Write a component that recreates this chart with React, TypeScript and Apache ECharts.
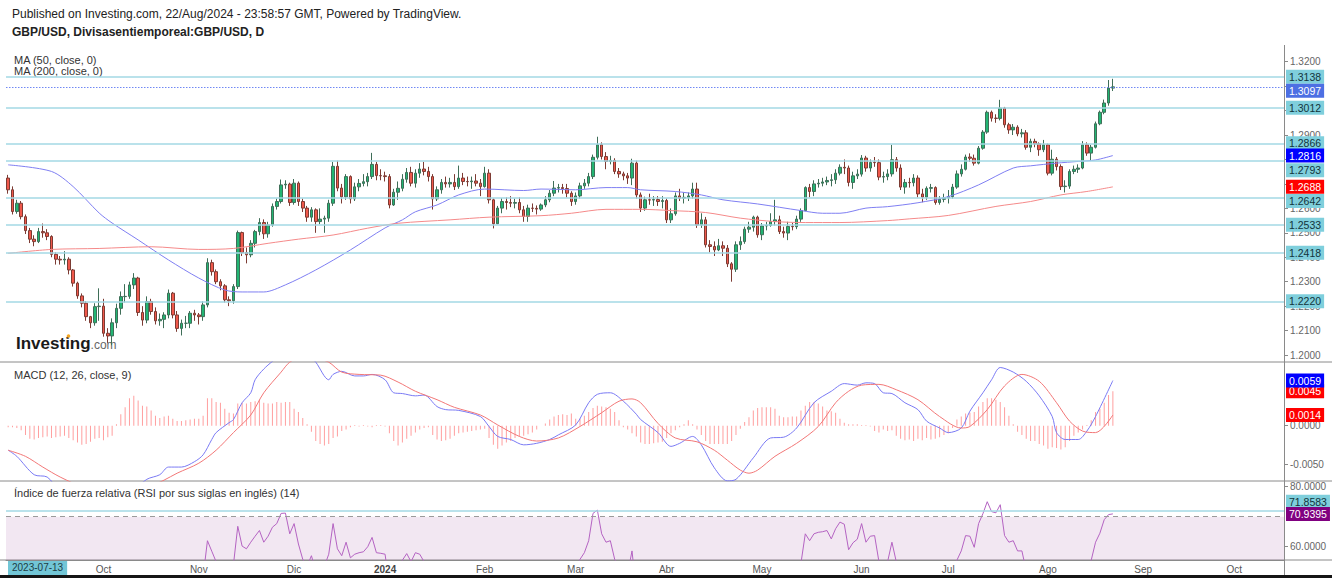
import React, { useEffect, useRef } from "react";
import * as echarts from "echarts";

// ---------------- DATA ----------------
const CAT_START = "2023-08-31";
const CAT_END = "2024-10-16";
const monthNames = ["Ene", "Feb", "Mar", "Abr", "May", "Jun", "Jul", "Ago", "Sep", "Oct", "Nov", "Dic"];

const firstOpen = 1.2724;
const closes = [
  1.2676,1.2587,1.2621,1.2566,1.2509,1.2474,1.2464,1.2505,1.2500,1.2485,
  1.2412,1.2392,1.2389,1.2392,1.2348,1.2294,1.2242,1.2212,1.2157,1.2132,
  1.2198,1.2200,1.2089,1.2078,1.2132,1.2191,1.2239,1.2240,1.2287,1.2315,
  1.2174,1.2143,1.2219,1.2178,1.2140,1.2146,1.2164,1.2253,1.2164,1.2109,
  1.2130,1.2130,1.2171,1.2164,1.2157,1.2205,1.2378,1.2341,1.2300,1.2283,
  1.2226,1.2222,1.2280,1.2501,1.2419,1.2410,1.2457,1.2505,1.2542,1.2496,
  1.2532,1.2608,1.2628,1.2696,1.2699,1.2624,1.2703,1.2628,1.2601,1.2564,
  1.2594,1.2546,1.2556,1.2560,1.2621,1.2772,1.2683,1.2647,1.2730,1.2639,
  1.2688,1.2702,1.2709,1.2730,1.2780,1.2734,1.2733,1.2730,1.2614,1.2666,
  1.2682,1.2719,1.2747,1.2703,1.2744,1.2761,1.2751,1.2730,1.2639,1.2676,
  1.2706,1.2700,1.2706,1.2689,1.2724,1.2710,1.2709,1.2712,1.2703,1.2689,
  1.2744,1.2635,1.2537,1.2601,1.2628,1.2624,1.2621,1.2624,1.2594,1.2567,
  1.2601,1.2600,1.2597,1.2614,1.2635,1.2662,1.2683,1.2685,1.2681,1.2662,
  1.2628,1.2651,1.2692,1.2703,1.2730,1.2809,1.2860,1.2812,1.2792,1.2796,
  1.2751,1.2741,1.2733,1.2724,1.2785,1.2655,1.2601,1.2635,1.2634,1.2636,
  1.2628,1.2632,1.2553,1.2578,1.2651,1.2642,1.2645,1.2651,1.2679,1.2532,
  1.2553,1.2451,1.2444,1.2430,1.2447,1.2437,1.2373,1.2351,1.2451,1.2464,
  1.2515,1.2523,1.2564,1.2492,1.2528,1.2530,1.2546,1.2553,1.2505,1.2499,
  1.2526,1.2525,1.2556,1.2591,1.2685,1.2669,1.2700,1.2703,1.2708,1.2714,
  1.2717,1.2744,1.2768,1.2765,1.2706,1.2733,1.2740,1.2806,1.2765,1.2788,
  1.2787,1.2728,1.2730,1.2741,1.2799,1.2765,1.2687,1.2706,1.2705,1.2724,
  1.2659,1.2646,1.2682,1.2685,1.2624,1.2637,1.2643,1.2648,1.2687,1.2741,
  1.2760,1.2810,1.2805,1.2785,1.2846,1.2912,1.2993,1.2969,1.2968,1.3010,
  1.2942,1.2921,1.2932,1.2905,1.2909,1.2850,1.2874,1.2864,1.2840,1.2860,
  1.2744,1.2801,1.2771,1.2689,1.2691,1.2751,1.2760,1.2765,1.2860,1.2826,
  1.2850,1.2946,1.2993,1.3031,1.3092,1.3097,
];
const highs = [
  1.2737,1.2690,1.2635,1.2630,1.2575,1.2520,1.2490,1.2520,1.2538,1.2515,
  1.2490,1.2420,1.2405,1.2425,1.2400,1.2352,1.2300,1.2252,1.2220,1.2160,
  1.2212,1.2273,1.2230,1.2110,1.2150,1.2210,1.2260,1.2290,1.2300,1.2335,
  1.2320,1.2200,1.2240,1.2230,1.2195,1.2170,1.2175,1.2268,1.2258,1.2180,
  1.2145,1.2160,1.2180,1.2185,1.2172,1.2220,1.2396,1.2390,1.2350,1.2310,
  1.2290,1.2240,1.2290,1.2509,1.2505,1.2440,1.2470,1.2512,1.2560,1.2555,
  1.2545,1.2620,1.2640,1.2718,1.2715,1.2705,1.2720,1.2710,1.2640,1.2610,
  1.2605,1.2600,1.2600,1.2570,1.2635,1.2790,1.2795,1.2700,1.2740,1.2735,
  1.2705,1.2720,1.2740,1.2745,1.2827,1.2790,1.2760,1.2750,1.2740,1.2680,
  1.2710,1.2740,1.2765,1.2770,1.2760,1.2785,1.2790,1.2770,1.2740,1.2690,
  1.2720,1.2730,1.2725,1.2740,1.2775,1.2745,1.2730,1.2730,1.2740,1.2720,
  1.2770,1.2760,1.2640,1.2610,1.2642,1.2645,1.2650,1.2640,1.2645,1.2610,
  1.2615,1.2620,1.2612,1.2620,1.2650,1.2675,1.2712,1.2700,1.2700,1.2700,
  1.2670,1.2665,1.2705,1.2720,1.2745,1.2820,1.2893,1.2870,1.2830,1.2815,
  1.2805,1.2765,1.2750,1.2745,1.2803,1.2795,1.2665,1.2648,1.2660,1.2650,
  1.2650,1.2650,1.2640,1.2600,1.2665,1.2680,1.2665,1.2665,1.2705,1.2705,
  1.2580,1.2565,1.2470,1.2465,1.2475,1.2465,1.2450,1.2380,1.2465,1.2485,
  1.2525,1.2545,1.2570,1.2570,1.2540,1.2545,1.2580,1.2635,1.2570,1.2525,
  1.2545,1.2540,1.2570,1.2600,1.2690,1.2700,1.2715,1.2720,1.2725,1.2730,
  1.2740,1.2760,1.2780,1.2800,1.2775,1.2750,1.2760,1.2818,1.2815,1.2800,
  1.2810,1.2800,1.2750,1.2760,1.2860,1.2810,1.2780,1.2720,1.2725,1.2740,
  1.2735,1.2680,1.2690,1.2700,1.2690,1.2650,1.2660,1.2675,1.2700,1.2755,
  1.2780,1.2820,1.2825,1.2820,1.2855,1.2920,1.3000,1.3000,1.2985,1.3044,
  1.3015,1.2950,1.2945,1.2940,1.2925,1.2920,1.2885,1.2885,1.2870,1.2880,
  1.2865,1.2840,1.2810,1.2780,1.2715,1.2760,1.2775,1.2780,1.2875,1.2870,
  1.2860,1.2955,1.3000,1.3045,1.3125,1.3130,
];
const lows = [
  1.2660,1.2575,1.2578,1.2555,1.2495,1.2458,1.2445,1.2458,1.2480,1.2470,
  1.2400,1.2370,1.2370,1.2370,1.2330,1.2280,1.2230,1.2195,1.2140,1.2110,
  1.2120,1.2140,1.2075,1.2050,1.2040,1.2110,1.2165,1.2215,1.2230,1.2270,
  1.2160,1.2120,1.2130,1.2165,1.2125,1.2120,1.2110,1.2150,1.2150,1.2095,
  1.2080,1.2110,1.2110,1.2140,1.2125,1.2140,1.2195,1.2325,1.2290,1.2265,
  1.2215,1.2200,1.2210,1.2270,1.2405,1.2375,1.2400,1.2440,1.2490,1.2475,
  1.2480,1.2525,1.2595,1.2620,1.2680,1.2610,1.2615,1.2610,1.2585,1.2545,
  1.2545,1.2500,1.2535,1.2500,1.2545,1.2610,1.2670,1.2620,1.2635,1.2620,
  1.2630,1.2670,1.2690,1.2690,1.2720,1.2715,1.2715,1.2710,1.2600,1.2610,
  1.2635,1.2670,1.2705,1.2690,1.2685,1.2725,1.2735,1.2710,1.2595,1.2630,
  1.2660,1.2685,1.2685,1.2675,1.2680,1.2695,1.2690,1.2680,1.2690,1.2650,
  1.2685,1.2620,1.2518,1.2535,1.2580,1.2595,1.2605,1.2600,1.2580,1.2545,
  1.2545,1.2585,1.2575,1.2590,1.2605,1.2625,1.2650,1.2665,1.2660,1.2645,
  1.2610,1.2615,1.2640,1.2680,1.2690,1.2720,1.2800,1.2800,1.2760,1.2780,
  1.2740,1.2725,1.2715,1.2700,1.2695,1.2640,1.2585,1.2590,1.2615,1.2610,
  1.2610,1.2600,1.2540,1.2540,1.2570,1.2630,1.2620,1.2630,1.2640,1.2520,
  1.2520,1.2440,1.2420,1.2405,1.2425,1.2405,1.2360,1.2300,1.2340,1.2430,
  1.2455,1.2500,1.2505,1.2480,1.2470,1.2510,1.2525,1.2530,1.2495,1.2480,
  1.2470,1.2510,1.2515,1.2545,1.2590,1.2645,1.2650,1.2685,1.2690,1.2695,
  1.2690,1.2700,1.2735,1.2740,1.2690,1.2680,1.2720,1.2730,1.2750,1.2750,
  1.2770,1.2715,1.2705,1.2715,1.2730,1.2750,1.2675,1.2660,1.2685,1.2690,
  1.2645,1.2625,1.2635,1.2665,1.2615,1.2615,1.2625,1.2620,1.2640,1.2680,
  1.2730,1.2755,1.2790,1.2775,1.2780,1.2840,1.2905,1.2955,1.2950,1.2960,
  1.2930,1.2905,1.2900,1.2895,1.2890,1.2840,1.2830,1.2850,1.2815,1.2830,
  1.2735,1.2735,1.2755,1.2675,1.2665,1.2680,1.2740,1.2745,1.2760,1.2815,
  1.2795,1.2845,1.2940,1.2985,1.3020,1.3080,
];

// [bar index, value]
const ma50Points = [
  [0,1.2778],[10,1.2751],[15,1.2689],[21,1.2581],[24,1.2540],[30,1.2471],[37,1.2389],[44,1.2315],
  [50,1.2266],[54,1.2258],[59,1.2258],[64,1.2287],[71,1.2348],[79,1.2430],[87,1.2520],[91,1.2553],
  [94,1.2586],[99,1.2614],[104,1.2655],[110,1.2679],[119,1.2673],[123,1.2679],[131,1.2676],[138,1.2685],
  [143,1.2685],[146,1.2676],[154,1.2669],[160,1.2655],[165,1.2635],[173,1.2618],[183,1.2591],[188,1.2580],
  [192,1.2580],[198,1.2601],[203,1.2607],[210,1.2623],[217,1.2648],[224,1.2696],[232,1.2765],[236,1.2774],
  [242,1.2785],[247,1.2792],[251,1.2798],[255,1.2816],
];
const ma200Points = [
  [0,1.2416],[10,1.2432],[21,1.2436],[33,1.2443],[44,1.2432],[52,1.2436],[60,1.2457],[67,1.2474],
  [75,1.2491],[83,1.2519],[90,1.2539],[102,1.2553],[111,1.2564],[123,1.2570],[130,1.2580],[138,1.2596],
  [146,1.2596],[153,1.2591],[161,1.2583],[169,1.2560],[177,1.2546],[184,1.2542],[192,1.2542],[203,1.2550],
  [208,1.2557],[217,1.2571],[228,1.2608],[236,1.2628],[243,1.2655],[249,1.2669],[255,1.2688],
];

const priceLevels = [1.3138, 1.3012, 1.2866, 1.2793, 1.2642, 1.2533, 1.2418, 1.2220];
const mainTicks = [1.20,1.21,1.22,1.23,1.24,1.25,1.26,1.27,1.28,1.29,1.30,1.31,1.32];
// tick labels that are not fully covered by a price box in the reference
const mainTickLabels = [1.20,1.21,1.22,1.23,1.24,1.25,1.26,1.29,1.32];

const macdPoints = [
  [0,-0.0032],[2,-0.0040],[6,-0.0064],[9,-0.0067],[12,-0.0085],[18,-0.0100],[24,-0.0097],[28,-0.0088],
  [32,-0.0070],[35,-0.0064],[37,-0.0054],[40,-0.0054],[43,-0.0047],[45,-0.0038],[47,-0.0018],[48,-0.0009],
  [51,0.0004],[52,0.0008],[54,0.0030],[56,0.0043],[57,0.0060],[59,0.0074],[61,0.0084],[64,0.0096],
  [67,0.0098],[70,0.0088],[71,0.0083],[74,0.0060],[75,0.0067],[77,0.0071],[80,0.0065],[82,0.0065],
  [84,0.0067],[87,0.0060],[89,0.0043],[91,0.0042],[94,0.0039],[96,0.0040],[99,0.0025],[101,0.0021],
  [104,0.0020],[109,0.0012],[111,-0.0001],[113,-0.0014],[116,-0.0018],[119,-0.0025],[122,-0.0023],[125,-0.0018],
  [127,-0.0012],[131,0.0001],[134,0.0030],[136,0.0041],[139,0.0043],[142,0.0032],[145,0.0015],[146,0.0008],
  [150,-0.0009],[153,-0.0027],[155,-0.0023],[158,-0.0014],[160,-0.0025],[163,-0.0055],[166,-0.0072],[168,-0.0070],
  [172,-0.0042],[176,-0.0016],[179,-0.0015],[182,-0.0003],[186,0.0030],[190,0.0045],[193,0.0055],[196,0.0053],
  [198,0.0056],[200,0.0055],[202,0.0043],[204,0.0042],[207,0.0030],[210,0.0021],[212,0.0006],[215,-0.0003],
  [217,-0.0009],[220,-0.0003],[222,0.0019],[225,0.0043],[227,0.0060],[229,0.0076],[232,0.0070],[235,0.0058],
  [238,0.0039],[241,0.0012],[242,-0.0009],[244,-0.0018],[247,-0.0018],[249,-0.0007],[251,0.0012],[255,0.0059],
];
const signalPoints = [
  [0,-0.0032],[4,-0.0040],[8,-0.0054],[12,-0.0067],[18,-0.0082],[24,-0.0090],[30,-0.0086],[36,-0.0071],
  [39,-0.0062],[44,-0.0049],[48,-0.0032],[52,-0.0009],[56,0.0014],[59,0.0043],[63,0.0070],[65,0.0083],
  [68,0.0090],[71,0.0088],[74,0.0083],[77,0.0070],[81,0.0067],[86,0.0066],[90,0.0057],[94,0.0045],
  [99,0.0034],[103,0.0024],[109,0.0014],[113,0.0001],[118,-0.0014],[122,-0.0020],[127,-0.0016],[132,-0.0001],
  [137,0.0017],[141,0.0032],[144,0.0035],[146,0.0030],[150,0.0003],[154,-0.0016],[159,-0.0021],[163,-0.0032],
  [166,-0.0045],[169,-0.0058],[171,-0.0062],[173,-0.0058],[177,-0.0040],[182,-0.0023],[187,-0.0001],[191,0.0030],
  [194,0.0045],[197,0.0053],[201,0.0054],[205,0.0047],[210,0.0034],[215,0.0012],[220,-0.0003],[222,-0.0001],
  [226,0.0021],[230,0.0052],[234,0.0067],[238,0.0058],[242,0.0030],[245,0.0006],[248,-0.0007],[251,-0.0009],
  [255,0.0014],
];
const macdHist = [
  -0.0002,-0.0002,-0.0003,-0.0006,-0.0012,-0.0017,-0.0018,-0.0016,-0.0015,-0.0014,
  -0.0016,-0.0015,-0.0014,-0.0013,-0.0016,-0.0019,-0.0022,-0.0025,-0.0024,-0.0021,
  -0.0017,-0.0016,-0.0019,-0.0015,-0.0013,0.0002,0.0015,0.0024,0.0036,0.0039,
  0.0033,0.0026,0.0025,0.0020,0.0013,0.0010,0.0012,0.0013,0.0009,0.0006,
  0.0006,0.0007,0.0008,0.0009,0.0009,0.0013,0.0036,0.0036,0.0031,0.0030,
  0.0022,0.0017,0.0016,0.0029,0.0030,0.0029,0.0031,0.0032,0.0034,0.0030,
  0.0029,0.0029,0.0031,0.0030,0.0031,0.0031,0.0022,0.0018,0.0010,0.0002,
  -0.0008,-0.0020,-0.0024,-0.0026,-0.0024,-0.0016,-0.0014,-0.0007,-0.0005,-0.0002,
  0.0001,-0.0001,0.0001,-0.0001,-0.0002,0.0001,0.0001,-0.0001,-0.0010,-0.0020,
  -0.0026,-0.0022,-0.0017,-0.0013,-0.0009,-0.0005,-0.0003,-0.0002,-0.0012,-0.0018,
  -0.0020,-0.0019,-0.0017,-0.0013,-0.0010,-0.0009,-0.0008,-0.0007,-0.0006,-0.0005,
  -0.0004,-0.0016,-0.0025,-0.0030,-0.0026,-0.0022,-0.0020,-0.0016,-0.0014,-0.0013,
  -0.0011,-0.0009,-0.0005,0.0000,0.0003,0.0008,0.0012,0.0014,0.0015,0.0014,
  0.0016,0.0009,0.0009,0.0013,0.0018,0.0023,0.0026,0.0025,0.0024,0.0022,
  0.0018,0.0007,-0.0002,-0.0005,-0.0010,-0.0014,-0.0022,-0.0024,-0.0024,-0.0023,
  -0.0022,-0.0021,-0.0016,-0.0010,-0.0006,-0.0002,0.0002,0.0007,0.0002,-0.0005,
  -0.0012,-0.0020,-0.0024,-0.0024,-0.0024,-0.0024,-0.0024,-0.0020,-0.0012,-0.0004,
  0.0005,0.0011,0.0020,0.0023,0.0024,0.0024,0.0024,0.0022,0.0013,0.0011,
  0.0011,0.0012,0.0012,0.0020,0.0026,0.0031,0.0031,0.0029,0.0025,0.0020,
  0.0019,0.0017,0.0009,0.0004,0.0002,0.0002,0.0002,0.0001,0.0001,-0.0001,
  -0.0007,-0.0009,-0.0005,-0.0007,-0.0006,-0.0013,-0.0017,-0.0019,-0.0018,-0.0020,
  -0.0017,-0.0019,-0.0016,-0.0018,-0.0017,-0.0015,-0.0012,-0.0010,-0.0003,0.0008,
  0.0012,0.0016,0.0017,0.0018,0.0025,0.0031,0.0036,0.0036,0.0034,0.0031,
  0.0024,0.0013,0.0002,-0.0008,-0.0012,-0.0017,-0.0020,-0.0020,-0.0024,-0.0026,
  -0.0030,-0.0028,-0.0029,-0.0031,-0.0028,-0.0020,-0.0013,-0.0009,-0.0005,0.0001,
  0.0007,0.0018,0.0022,0.0030,0.0040,0.0045,
];
const macdTicks = [-0.005, 0];

const rsi = [
  50,44,47,43,39,37,36,40,40,39,
  34,33,33,34,31,28,25,24,21,20,
  29,30,24,23,30,36,41,41,45,47,
  38,36,42,40,37,38,40,47,41,38,
  40,40,43,42,42,50,62,58.5,55,53,
  48,48,54,66.8,60.2,59.3,61.5,63.5,65.4,61.5,
  63.5,66.5,67.7,71.1,71.2,64.3,67.7,60.9,55.8,53.5,
  57,52,53,53.5,57.5,67.7,59.3,57,61.5,56.3,
  57.5,58,58.3,60,63.1,58,57.8,57.5,47,51.5,
  53,55.5,57.7,55,58,57.5,55,54,45,48,
  51,50,51,49,53,51,51,51.5,50.5,49,
  54.5,44,37,43,46,45.5,45.3,45.8,43,41,
  45,45,44.7,46.5,49,52,54,54.2,53.8,51.5,
  48,51,55.8,58,62,71.1,72.2,64.3,61.5,62,
  55.8,53,52,51,58.6,45,40,44,44,44.5,
  43.5,44.2,37,40,48,47,47.5,48,51,38,
  40,33,32.5,31.5,33.5,32.5,28,27,39,40.5,
  45,46,49.5,43.5,47,47.2,48.6,49.3,45.5,45,
  48,48,51,54.5,64.3,62,64.3,64.8,65,65.4,
  62.6,66,68.2,67.5,59,61.3,62.5,67.7,61.5,63.5,
  63.7,55,53,55,61.5,55,47,49.5,49.5,51.5,
  44.5,43,47.5,48,42,43.5,44.3,45,50,55.5,
  58.6,63.7,63.5,59.8,67.7,71,75,71.7,71.3,74,
  63.7,61.5,62,58.6,58.6,52,54,53,50,52,
  42,47.5,45,38.5,39,45,46,46.5,54.5,52,
  55.5,61.5,64.5,69,70.7,70.9395,
];
const rsiTicks = [60, 80];
const rsiUpper = 70;
const rsiDrawnLevel = 71.8583;

// ---------------- LAYOUT / STYLE ----------------
const W = 1332;
const H = 578;
const GRID_LEFT = 6;
const GRID_RIGHT = 48;
const AXIS_X = W - GRID_RIGHT;
const MAIN_TOP = 46, MAIN_H = 316, MAIN_MIN = 1.19715, MAIN_MAX = 1.32642;
const MACD_TOP = 362, MACD_H = 119, MACD_MIN = -0.00722, MACD_MAX = 0.00832;
const RSI_TOP = 481, RSI_H = 79, RSI_MIN = 55.57, RSI_MAX = 81.9;
const FONT = "'Liberation Sans', Arial, sans-serif";
const LEVEL_COLOR = "#a3d9e5";
const CYAN_BG = "#7fcfdc";
const HIDDEN_LINE = { color: "rgba(0,0,0,0)", width: 0, opacity: 1 };

function weekdays(a: string, b: string): string[] {
  const out: string[] = [];
  const d = new Date(a + "T00:00:00Z");
  const e = new Date(b + "T00:00:00Z");
  while (d <= e) {
    const w = d.getUTCDay();
    if (w !== 0 && w !== 6) out.push(d.toISOString().slice(0, 10));
    d.setUTCDate(d.getUTCDate() + 1);
  }
  return out;
}

function boxLabel(bg: string, fg: string) {
  return {
    show: true,
    position: "end",
    distance: 2,
    opacity: 1,
    formatter: (p: any) => p.name,
    backgroundColor: bg,
    color: fg,
    fontSize: 10.5,
    fontFamily: FONT,
    padding: [2, 3, 1, 3],
    lineHeight: 11,
  };
}

function buildOption() {
  const cats = weekdays(CAT_START, CAT_END);
  const monthStart = new Set<number>();
  cats.forEach((c, i) => {
    if (i > 4 && c.slice(5, 7) !== cats[i - 1].slice(5, 7)) monthStart.add(i);
  });

  const candles = closes.map((c, i) => [i === 0 ? firstOpen : closes[i - 1], c, lows[i], highs[i]]);

  const mainPx = MAIN_H / (MAIN_MAX - MAIN_MIN);
  const rsiPx = RSI_H / (RSI_MAX - RSI_MIN);
  const labelShiftPx: Record<string, number> = { "1.2793": 9, "1.2642": 3, "1.3097": 4 };

  const lastClose = closes[closes.length - 1];
  const lastMa50 = ma50Points[ma50Points.length - 1][1];
  const lastMa200 = ma200Points[ma200Points.length - 1][1];
  const lastMacd = macdPoints[macdPoints.length - 1][1];
  const lastSignal = signalPoints[signalPoints.length - 1][1];
  const lastHist = macdHist[macdHist.length - 1];
  const lastRsi = rsi[rsi.length - 1];

  const mainMarks: any[] = [];
  priceLevels.forEach((v) => {
    mainMarks.push({ yAxis: v, lineStyle: { color: LEVEL_COLOR, width: 1.5, type: "solid" }, label: { show: false } });
  });
  mainMarks.push({ yAxis: lastClose, lineStyle: { color: "#7088f4", width: 1, type: [1.5, 1.5] }, label: { show: false } });
  priceLevels.forEach((v) => {
    const t = v.toFixed(4);
    mainMarks.push({ name: t, yAxis: v - (labelShiftPx[t] || 0) / mainPx, lineStyle: HIDDEN_LINE, label: boxLabel(CYAN_BG, "#12343b") });
  });
  const lc = lastClose.toFixed(4);
  mainMarks.push({ name: lc, yAxis: lastClose - (labelShiftPx[lc] || 0) / mainPx, lineStyle: HIDDEN_LINE, label: boxLabel("#4d6fe3", "#ffffff") });

  const invisible = (name: string, v: number, bg: string, fg = "#ffffff") => ({
    name, yAxis: v, lineStyle: HIDDEN_LINE, label: boxLabel(bg, fg),
  });

  const markBase = { symbol: ["none", "none"], silent: true, animation: false, precision: 6 };

  const yAxisBase = (gridIndex: number, min: number, max: number, ticks: number[], labels: number[]) => ({
    type: "value",
    gridIndex,
    position: "right",
    min,
    max,
    axisLine: { show: true, lineStyle: { color: "#8a8a8a", width: 1 } },
    axisTick: { show: true, length: 4, lineStyle: { color: "#8a8a8a" }, customValues: ticks },
    axisLabel: {
      show: true,
      customValues: labels,
      formatter: (v: number) => v.toFixed(4),
      color: "#666",
      fontSize: 10,
      fontFamily: FONT,
      margin: 6,
    },
    splitLine: { show: false },
  });

  const xAxisBase = (gridIndex: number, showLabels: boolean) => ({
    type: "category",
    gridIndex,
    data: cats,
    boundaryGap: true,
    axisLine: { show: showLabels, lineStyle: { color: "#8a8a8a" } },
    axisTick: { show: false },
    splitLine: { show: false },
    axisLabel: showLabels
      ? {
          show: true,
          interval: (idx: number) => monthStart.has(idx),
          formatter: (val: string) => {
            const m = +val.slice(5, 7);
            return m === 1 ? "{y|" + val.slice(0, 4) + "}" : monthNames[m - 1];
          },
          rich: { y: { fontWeight: "bold", color: "#444", fontSize: 10, fontFamily: FONT } },
          color: "#555",
          fontSize: 10,
          fontFamily: FONT,
          margin: 4,
        }
      : { show: false },
  });

  const text = (t: string, x: number, y: number, extra: any = {}) => ({
    type: "text",
    x,
    y,
    silent: true,
    style: { text: t, fill: "#333", fontSize: 11, fontFamily: FONT, textVerticalAlign: "middle", ...extra },
  });
  const hline = (y: number, color = "#8a8a8a") => ({
    type: "line", silent: true, shape: { x1: 0, y1: y, x2: W, y2: y }, style: { stroke: color, lineWidth: 1 },
  });

  return {
    animation: false,
    backgroundColor: "#ffffff",
    textStyle: { fontFamily: FONT },
    grid: [
      { left: GRID_LEFT, right: GRID_RIGHT, top: MAIN_TOP, height: MAIN_H },
      { left: GRID_LEFT, right: GRID_RIGHT, top: MACD_TOP, height: MACD_H },
      { left: GRID_LEFT, right: GRID_RIGHT, top: RSI_TOP, height: RSI_H },
    ],
    xAxis: [xAxisBase(0, false), xAxisBase(1, false), xAxisBase(2, true)],
    yAxis: [
      yAxisBase(0, MAIN_MIN, MAIN_MAX, mainTicks, mainTickLabels),
      yAxisBase(1, MACD_MIN, MACD_MAX, macdTicks, macdTicks),
      yAxisBase(2, RSI_MIN, RSI_MAX, rsiTicks, rsiTicks),
    ],
    series: [
      {
        type: "candlestick",
        xAxisIndex: 0,
        yAxisIndex: 0,
        data: candles,
        barWidth: 3,
        itemStyle: {
          color: "#22b573",
          color0: "#f0584b",
          borderColor: "#3f6e58",
          borderColor0: "#7c3b33",
          borderWidth: 1,
        },
        markLine: { ...markBase, data: mainMarks },
        z: 3,
      },
      {
        type: "line",
        xAxisIndex: 0,
        yAxisIndex: 0,
        data: ma50Points,
        symbol: "none",
        smooth: 0.3,
        lineStyle: { color: "#7f7ff2", width: 1 },
        markLine: { ...markBase, data: [invisible(lastMa50.toFixed(4), lastMa50, "#0000ff")] },
        z: 4,
      },
      {
        type: "line",
        xAxisIndex: 0,
        yAxisIndex: 0,
        data: ma200Points,
        symbol: "none",
        smooth: 0.3,
        lineStyle: { color: "#f58a8a", width: 1 },
        markLine: { ...markBase, data: [invisible(lastMa200.toFixed(4), lastMa200, "#ff0000")] },
        z: 4,
      },
      {
        type: "bar",
        xAxisIndex: 1,
        yAxisIndex: 1,
        data: macdHist,
        barWidth: 1,
        itemStyle: { color: "rgba(255,95,95,0.6)" },
        markLine: { ...markBase, data: [invisible(lastHist.toFixed(4), lastHist, "#ff0000")] },
      },
      {
        type: "line",
        xAxisIndex: 1,
        yAxisIndex: 1,
        data: macdPoints,
        symbol: "none",
        smooth: 0.3,
        lineStyle: { color: "#7a7af4", width: 1 },
        markLine: { ...markBase, data: [invisible(lastMacd.toFixed(4), lastMacd, "#0000ff")] },
      },
      {
        type: "line",
        xAxisIndex: 1,
        yAxisIndex: 1,
        data: signalPoints,
        symbol: "none",
        smooth: 0.3,
        lineStyle: { color: "#f27777", width: 1 },
        markLine: { ...markBase, data: [invisible(lastSignal.toFixed(4), lastSignal, "#ff0000")] },
      },
      {
        type: "line",
        xAxisIndex: 2,
        yAxisIndex: 2,
        data: rsi,
        symbol: "none",
        lineStyle: { color: "#b463c2", width: 1 },
        markArea: {
          silent: true,
          itemStyle: { color: "rgba(150, 60, 150, 0.12)" },
          data: [[{ yAxis: RSI_MIN }, { yAxis: rsiUpper }]],
        },
        markLine: {
          ...markBase,
          data: [
            { yAxis: rsiUpper, lineStyle: { color: "#9a9a9a", width: 1, type: [5, 4] }, label: { show: false } },
            { yAxis: rsiDrawnLevel, lineStyle: { color: LEVEL_COLOR, width: 1.5, type: "solid" }, label: { show: false } },
            invisible(rsiDrawnLevel.toFixed(4), rsiDrawnLevel + 9.5 / rsiPx, CYAN_BG, "#12343b"),
            invisible(lastRsi.toFixed(4), lastRsi, "#800080"),
          ],
        },
      },
    ],
    graphic: {
      elements: [
        hline(MACD_TOP),
        hline(RSI_TOP),
        hline(RSI_TOP + RSI_H),
        { type: "line", silent: true, shape: { x1: AXIS_X + 0.5, y1: 45, x2: AXIS_X + 0.5, y2: H }, style: { stroke: "#8a8a8a", lineWidth: 1 } },
        { type: "rect", silent: true, shape: { x: 0, y: 575, width: W, height: 3 }, style: { fill: "#151515" } },
        text("Published on Investing.com, 22/Aug/2024 - 23:58:57 GMT, Powered by TradingView.", 12, 14, { fontSize: 12, fill: "#222" }),
        text("GBP/USD, Divisasentiemporeal:GBP/USD, D", 12, 32, { fontSize: 12, fontWeight: "bold", fill: "#222" }),
        text("MA (50, close, 0)", 14, 60),
        text("MA (200, close, 0)", 14, 71),
        text("MACD (12, 26, close, 9)", 14, 375),
        text("Índice de fuerza relativa (RSI por sus siglas en inglés) (14)", 14, 493),
        text("2023-07-13", 8, 567.5, {
          fontSize: 10,
          fill: "#1d3d44",
          backgroundColor: "#72c6d6",
          padding: [3, 4, 2, 4],
        }),
        {
          type: "text",
          x: 16,
          y: 343,
          silent: true,
          style: {
            text: "{a|Investing}{b|.com}",
            textVerticalAlign: "middle",
            rich: {
              a: { fontSize: 17, fontWeight: "bold", fill: "#1a1a1a", fontFamily: FONT },
              b: { fontSize: 12, fill: "#666", fontFamily: FONT, padding: [4, 0, 0, 0] },
            },
          },
        },
        { type: "circle", silent: true, shape: { cx: 68.5, cy: 336, r: 1.8 }, style: { fill: "#f5a623" } },
      ],
    },
  };
}

export default function App() {
  const ref = useRef<HTMLDivElement>(null);
  useEffect(() => {
    if (!ref.current) return;
    const chart = echarts.init(ref.current, null, { renderer: "svg" });
    chart.setOption(buildOption() as any);
    return () => chart.dispose();
  }, []);
  return (
    <div
      ref={ref}
      style={{ position: "fixed", left: 0, top: 0, width: W, height: H, background: "#fff" }}
    />
  );
}
